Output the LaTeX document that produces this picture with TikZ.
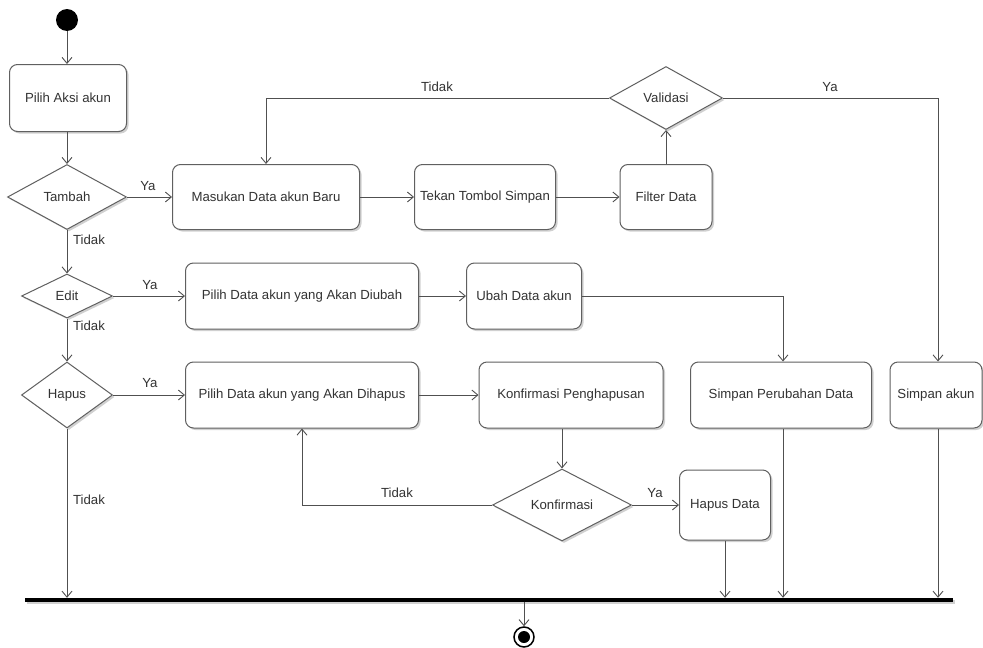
\documentclass[tikz,border=0pt]{standalone}
\usepackage{fontspec}
\setmainfont{Liberation Sans}
\usetikzlibrary{shapes.geometric,arrows.meta,shadows}
\definecolor{linec}{HTML}{505050}
\definecolor{boxc}{HTML}{606060}
\definecolor{txt}{HTML}{333333}
\begin{document}
\begin{tikzpicture}[x=1pt,y=-1pt,
  font=\fontsize{13.2}{15}\selectfont,
  conn/.style={draw=linec, line width=0.9pt},
  arr/.style={conn, -{Straight Barb[length=6pt,width=10pt]}},
  act/.style={draw=boxc, line width=1pt, rounded corners=8pt, fill=white, text=txt,
    inner sep=0pt, drop shadow={shadow xshift=2pt,shadow yshift=-2pt,opacity=0.3,fill=black!60}},
  dec/.style={diamond, draw=boxc, line width=1pt, fill=white, text=txt, inner sep=0pt,
    drop shadow={shadow xshift=2pt,shadow yshift=-2pt,opacity=0.3,fill=black!60}},
  lbl/.style={text=txt, inner sep=1pt}]
\useasboundingbox (0,0) rectangle (983,648);
\fill[white] (0,0) rectangle (983,648);

% nodes
\node[circle, fill=black, minimum size=22pt, inner sep=0pt] (start) at (67,20) {};
\node[act, minimum width=117pt, minimum height=67pt] (a1) at (68,98) {Pilih Aksi akun};
\node[dec, minimum width=119pt, minimum height=65pt] (d1) at (67,197) {Tambah};
\node[act, minimum width=187pt, minimum height=65pt] (a2) at (266,197) {Masukan Data akun Baru};
\node[act, minimum width=141pt, minimum height=65pt] (a3) at (485,197) {Tekan Tombol Simpan};
\node[act, minimum width=92pt, minimum height=65pt] (a4) at (666,197) {Filter Data};
\node[dec, minimum width=113pt, minimum height=63pt] (d2) at (666,98) {Validasi};
\node[dec, minimum width=91pt, minimum height=44pt] (d3) at (67,296) {Edit};
\node[act, minimum width=233pt, minimum height=66pt] (a5) at (302,296) {Pilih Data akun yang Akan Diubah};
\node[act, minimum width=115pt, minimum height=66pt] (a6) at (524,296) {Ubah Data akun};
\node[dec, minimum width=91pt, minimum height=66pt] (d4) at (67,395) {Hapus};
\node[act, minimum width=233pt, minimum height=66pt] (a7) at (302,395) {Pilih Data akun yang Akan Dihapus};
\node[act, minimum width=184pt, minimum height=66pt] (a8) at (571,395) {Konfirmasi Penghapusan};
\node[act, minimum width=181pt, minimum height=66pt] (a9) at (781,395) {Simpan Perubahan Data};
\node[act, minimum width=92pt, minimum height=66pt] (a10) at (936,395) {Simpan akun};
\node[dec, minimum width=139pt, minimum height=66pt] (d5) at (562,505) {Konfirmasi};
\node[act, minimum width=91pt, minimum height=70pt] (a11) at (725,505) {Hapus Data};
\node[rectangle, fill=black, minimum width=928pt, minimum height=4pt, inner sep=0pt,
  drop shadow={shadow xshift=2pt,shadow yshift=-2pt,opacity=0.3,fill=black!60}] (bar) at (489,600) {};
\node[circle, draw=black, line width=1.5pt, fill=white, minimum size=20pt, inner sep=0pt] (end) at (524,637) {};
\fill[black] (end.center) circle (6pt);

% coordinates for connector x positions
\coordinate (k1) at (783,0);
\coordinate (k2) at (938,0);

% connectors
\draw[arr] (start.south) -- (start.south |- a1.north);
\draw[arr] (d1.north |- a1.south) -- (d1.north);
\draw[arr] (d1.east) -- (a2.west);
\draw[arr] (a2.east) -- (a3.west);
\draw[arr] (a3.east) -- (a4.west);
\draw[arr] (a4.north) -- (d2.south);
\draw[arr] (d2.west) -| (a2.north);
\draw[arr] (d2.east) -| (k2 |- a10.north);
\draw[arr] (d1.south) -- (d3.north);
\draw[arr] (d3.east) -- (a5.west);
\draw[arr] (a5.east) -- (a6.west);
\draw[arr] (a6.east) -| (k1 |- a9.north);
\draw[arr] (d3.south) -- (d4.north);
\draw[arr] (d4.east) -- (a7.west);
\draw[arr] (a7.east) -- (a8.west);
\draw[arr] (d5.north |- a8.south) -- (d5.north);
\draw[arr] (d5.west) -| (a7.south);
\draw[arr] (d5.east) -- (a11.west);
\draw[arr] (a11.south) -- (a11.south |- bar.north);
\draw[arr] (k1 |- a9.south) -- (k1 |- bar.north);
\draw[arr] (k2 |- a10.south) -- (k2 |- bar.north);
\draw[arr] (d4.south) -- (d4.south |- bar.north);
\draw[arr] (end.north |- bar.south) -- (end.north);

% labels
\node[lbl] (y1) at (148,186) {Ya};
\node[lbl] (y2) at (150,285) {Ya};
\node[lbl] (y3) at (150,383) {Ya};
\node[lbl] (y4) at (655,493) {Ya};
\node[lbl] (y5) at (830,87) {Ya};
\node[lbl] (t1) at (89,240) {Tidak};
\node[lbl] (t2) at (89,326) {Tidak};
\node[lbl] (t3) at (89,500) {Tidak};
\node[lbl] (t4) at (437,87) {Tidak};
\node[lbl] (t5) at (397,493) {Tidak};
\end{tikzpicture}
\end{document}
